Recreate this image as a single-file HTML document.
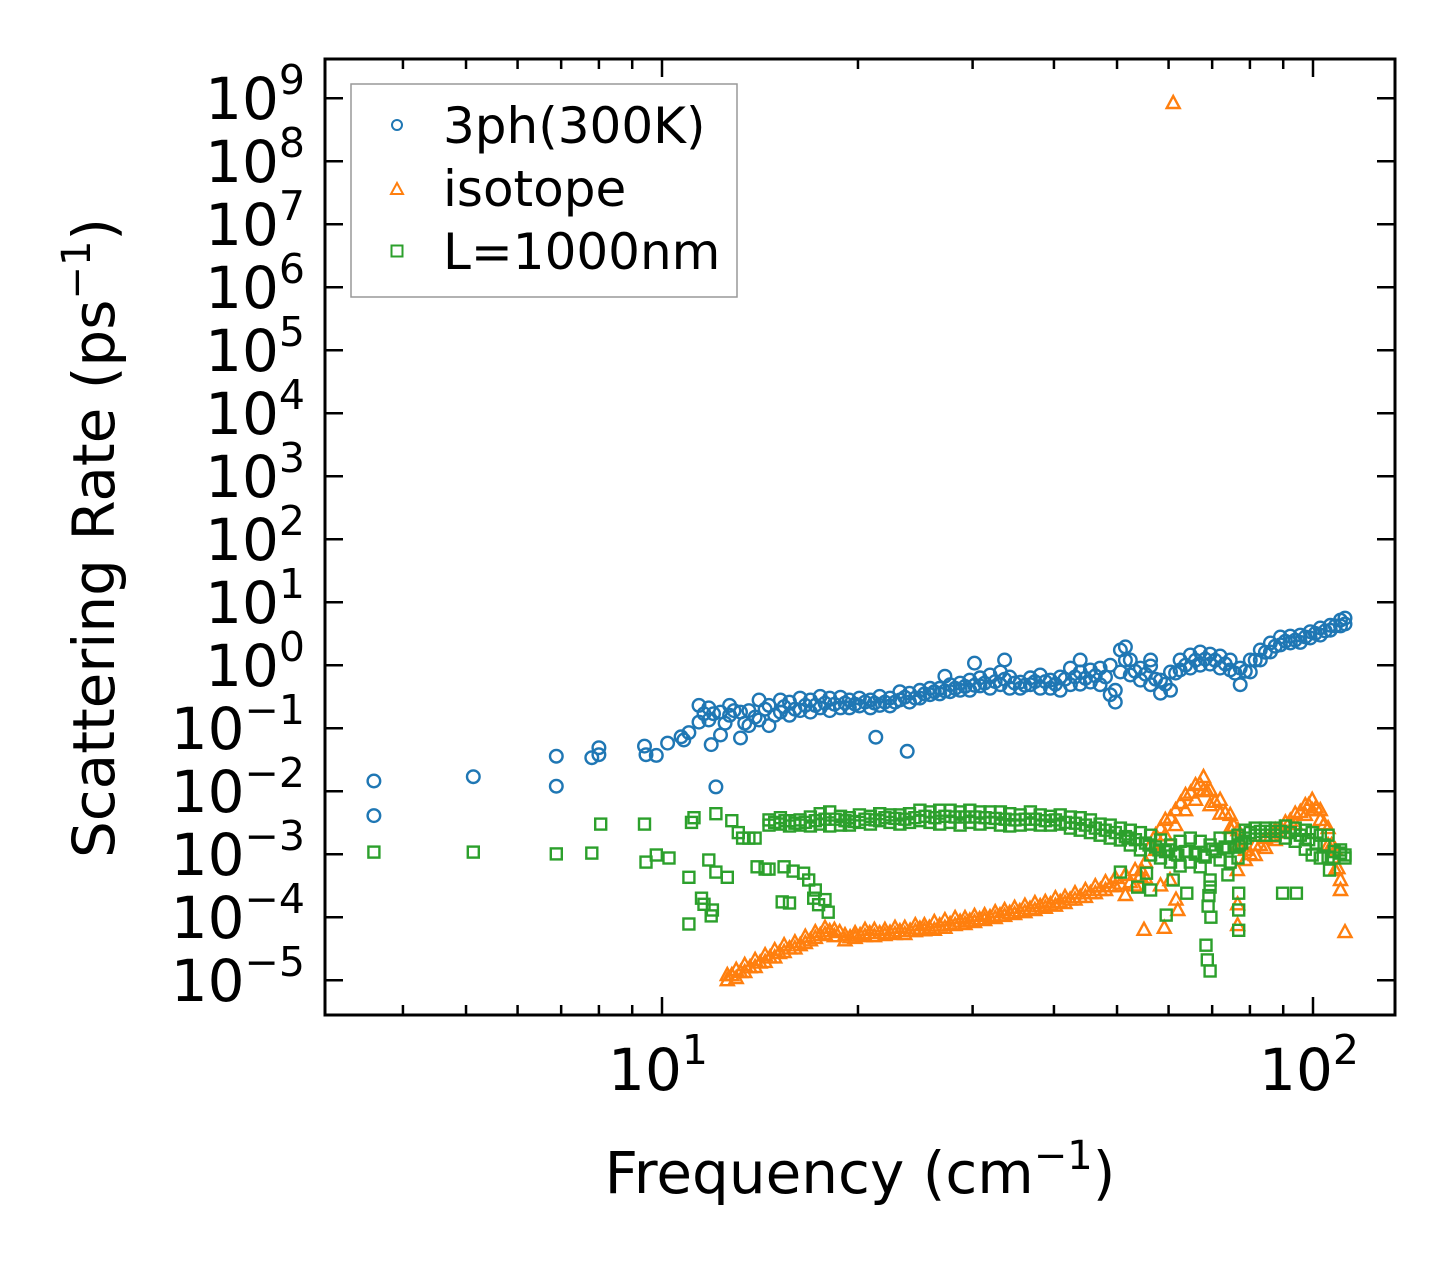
<!DOCTYPE html>
<html><head><meta charset="utf-8"><style>
html,body{margin:0;padding:0;background:#fff;}
svg{display:block;font-family:"DejaVu Sans","Liberation Sans",sans-serif;}
</style></head><body>
<svg id="chart" width="1455" height="1265" viewBox="0 0 1455 1265" xmlns="http://www.w3.org/2000/svg">
<rect x="0" y="0" width="1455" height="1265" fill="#fff"/>
<g id="marks"></g>
<g id="axes"></g>
<g id="legend">
<rect x="351" y="84" width="386" height="213" fill="#fff" stroke="#999" stroke-width="1.5"/>
<circle cx="397" cy="125" r="5" fill="none" stroke="#1f77b4" stroke-width="2"/>
<text x="443" y="143" font-size="50">3ph(300K)</text>
<path d="M391,194 L403,194 L397,183 Z" fill="none" stroke="#ff7f0e" stroke-width="2"/>
<text x="443" y="206" font-size="50">isotope</text>
<rect x="391.5" y="245.5" width="11" height="11" fill="none" stroke="#2ca02c" stroke-width="2"/>
<text x="443" y="269" font-size="50">L=1000nm</text>
</g>
<text x="860" y="1193" font-size="58" text-anchor="middle">Frequency (cm<tspan font-size="40" dy="-24">−1</tspan><tspan dy="24">)</tspan></text>
<text transform="translate(114,538) rotate(-90)" font-size="58" text-anchor="middle">Scattering Rate (ps<tspan font-size="40" dy="-24">−1</tspan><tspan dy="24">)</tspan></text>
</svg>
<script>
// ---- data ----
const blueFreq = [3.61,3.61,5.13,6.88,6.88,7.8,8.0,8.0,9.4,9.45,9.8,10.2,10.7,10.8,11.0,12.1,21.3,23.8,11.9,
11.4,11.4,11.8,11.8,12.3,12.3,12.7,12.7,13.2,13.2,13.6,13.6,14.1,14.1,14.6,14.6,15.2,15.2,15.7,15.7,16.3,16.3,16.9,16.9,17.5,17.5,18.1,18.1,18.8,18.8,19.4,19.4,20.1,20.1,20.9,20.9,21.6,21.6,22.4,22.4,23.2,23.2,24.0,24.0,24.9,24.9,25.8,25.8,26.7,26.7,27.7,27.7,28.7,28.7,29.7,29.7,30.8,30.8,31.9,31.9,33.1,33.1,34.2,34.2,35.5,35.5,36.8,36.8,38.1,38.1,39.5,39.5,40.9,40.9,42.4,42.4,43.9,43.9,45.5,45.5,47.1,47.1,48.8,48.8,49.7,49.7,50.6,50.6,52.4,52.4,54.3,54.3,56.3,56.3,58.3,58.3,60.4,60.4,62.5,62.5,64.8,64.8,67.1,67.1,69.5,69.5,72.0,72.0,74.6,74.6,77.3,77.3,80.1,80.1,83.0,83.0,86.0,86.0,89.1,89.1,92.3,92.3,95.6,95.6,99.0,99.0,102.6,102.6,106.3,106.3,110.2,110.2,112,112,
33.6,43.9,51.5,56.3,27.2,30.2,
11.6,12.0,12.5,12.9,13.4,13.9,14.4,14.9,15.4,16.0,16.6,17.2,17.8,18.4,19.1,19.8,20.5,21.2,22.0,22.8,23.6,24.5,25.3,26.2,27.2,28.2,29.2,30.2,31.3,32.5,33.6,34.8,36.1,37.4,38.8,40.2,41.6,43.1,44.7,46.3,48.0,
51.5,53.3,55.3,57.3,59.3,61.5,63.7,66.0,68.3,70.7,73.3,75.9,78.7,81.5,84.5,87.5,90.7,93.9,97.3,100.8,104.4,108.2];
const blueRate = [0.0145,0.0041,0.017,0.036,0.012,0.034,0.049,0.038,0.052,0.038,0.037,0.058,0.073,0.065,0.085,0.0117,0.072,0.043,0.055,
0.23,0.125,0.21,0.135,0.18,0.078,0.23,0.16,0.18,0.07,0.19,0.11,0.28,0.135,0.23,0.11,0.28,0.18,0.26,0.16,0.30,0.19,0.28,0.18,0.32,0.21,0.30,0.19,0.31,0.21,0.28,0.21,0.30,0.225,0.28,0.21,0.32,0.23,0.30,0.225,0.38,0.28,0.36,0.26,0.40,0.30,0.43,0.34,0.43,0.35,0.49,0.38,0.52,0.40,0.58,0.40,0.63,0.47,0.70,0.43,0.78,0.49,0.65,0.43,0.54,0.43,0.63,0.49,0.70,0.43,0.58,0.43,0.65,0.40,0.90,0.49,0.78,0.50,0.84,0.54,0.90,0.49,1.0,0.34,0.40,0.26,1.74,0.78,1.21,0.70,0.90,0.58,0.97,0.49,0.58,0.36,0.78,0.40,1.21,0.84,1.45,0.90,1.62,1.0,1.5,1.04,1.4,0.90,1.21,0.84,0.90,0.49,1.21,0.78,1.74,1.21,2.25,1.62,2.8,2.1,2.9,2.25,3.0,2.3,3.4,2.7,3.9,3.0,4.3,3.6,5.2,4.2,5.6,4.5,
1.21,1.21,1.95,1.21,0.67,1.08,
0.17,0.17,0.12,0.19,0.12,0.15,0.2,0.16,0.22,0.2,0.23,0.23,0.25,0.24,0.25,0.24,0.26,0.25,0.26,0.26,0.31,0.3,0.35,0.38,0.39,0.43,0.46,0.48,0.52,0.55,0.6,0.52,0.48,0.55,0.55,0.5,0.6,0.65,0.62,0.68,0.65,
1.2,0.8,0.72,0.6,0.5,0.75,1.0,1.2,1.25,1.2,1.05,0.75,0.8,1.2,1.6,2.0,2.4,2.5,2.8,3.2,3.5,4.2];

const orangeFreq = [12.6,12.6,13.0,13.0,13.4,13.4,13.9,13.9,14.4,14.4,14.9,14.9,15.4,15.4,16.0,16.0,16.6,16.6,17.2,17.2,17.8,17.8,18.4,18.4,19.1,19.1,19.8,19.8,20.5,20.5,21.2,21.2,22.0,22.0,22.8,22.8,23.6,23.6,24.5,24.5,25.3,25.3,26.2,26.2,27.2,27.2,28.2,28.2,29.2,29.2,30.2,30.2,31.3,31.3,32.5,32.5,33.6,33.6,34.8,34.8,36.1,36.1,37.4,37.4,38.8,38.8,40.2,40.2,41.6,41.6,43.1,43.1,44.7,44.7,46.3,46.3,48.0,48.0,49.7,49.7,51.5,51.5,53.3,53.3,55.3,55.3,
57.3,57.3,59.3,59.3,61.5,61.5,63.7,63.7,66.0,66.0,67.9,67.9,69.5,69.5,72.0,72.0,74.6,74.6,76.7,76.7,78.7,78.7,81.5,81.5,84.5,84.5,87.5,87.5,90.7,90.7,93.9,93.9,97.3,97.3,99.7,99.7,102.6,102.6,105.5,105.5,108.2,108.2,110.2,110.2,
55.0,59.1,60.3,61.6,62.0,76.6,76.6,76.5,112,54.5,58.3,61,
12.8,13.2,13.65,14.15,14.65,15.15,15.7,16.3,16.9,17.5,18.1,18.75,19.45,20.15,20.85,21.6,22.4,23.2,24.05,24.9,25.75,26.7,27.7,28.7,29.7,30.75,31.9,33.05,34.2,35.45,36.75,38.1,39.5,40.9,42.35,43.9,45.5,47.15,48.85,50.6,52.4,54.3,56.3,58.3,60.4,62.6,64.85,67.0,68.7,70.7,73.3,75.6,77.7,80.1,83.0,86.0,89.1,92.3,95.6,98.5,101.1,104.0,106.8,109.2];
const orangeRate = [1.21e-5,1.0e-5,1.46e-5,1.08e-5,1.75e-5,1.35e-5,2.1e-5,1.62e-5,2.5e-5,1.95e-5,3.0e-5,2.3e-5,3.6e-5,2.8e-5,4.0e-5,3.2e-5,4.9e-5,3.9e-5,5.8e-5,4.7e-5,6.8e-5,5.4e-5,6.3e-5,5.0e-5,5.2e-5,4.3e-5,5.6e-5,4.7e-5,6.3e-5,5.0e-5,6.3e-5,5.0e-5,6.3e-5,5.2e-5,6.8e-5,5.4e-5,6.8e-5,5.4e-5,7.5e-5,6.0e-5,7.5e-5,6.2e-5,8.4e-5,6.3e-5,9.0e-5,6.8e-5,9.7e-5,7.5e-5,9.7e-5,7.8e-5,1.05e-4,8.4e-5,1.08e-4,9.0e-5,1.2e-4,9.7e-5,1.3e-4,1.05e-4,1.41e-4,1.12e-4,1.52e-4,1.2e-4,1.68e-4,1.3e-4,1.75e-4,1.41e-4,2.0e-4,1.52e-4,2.1e-4,1.68e-4,2.4e-4,1.9e-4,2.7e-4,2.1e-4,3.1e-4,2.4e-4,3.6e-4,2.7e-4,4.2e-4,3.1e-4,4.7e-4,2.25e-4,5.6e-4,3.2e-4,7.5e-4,4.2e-4,
0.0020,0.00117,0.0035,0.0020,0.0050,0.0029,0.0087,0.0050,0.0125,0.0073,0.0168,0.0104,0.0104,0.0060,0.0073,0.0044,0.0042,0.0026,0.0024,0.0014,0.00117,0.00081,0.0014,0.00097,0.0018,0.00126,0.0024,0.00168,0.0032,0.0022,0.0044,0.0030,0.0060,0.0042,0.0073,0.0050,0.0050,0.0035,0.0026,0.0014,0.00117,0.00056,0.00039,0.00027,
6.3e-5,6.8e-5,3.9e-4,1.9e-4,1.3e-4,7.5e-5,1.6e-4,5.6e-4,5.8e-5,5.6e-4,3.2e-4,8.4e8,
1.2e-5,1.35e-5,1.6e-5,1.9e-5,2.3e-5,2.7e-5,3.2e-5,3.6e-5,4.3e-5,5.2e-5,6.0e-5,5.8e-5,4.8e-5,5.2e-5,5.6e-5,5.6e-5,5.7e-5,6.0e-5,6.1e-5,6.6e-5,6.8e-5,7.4e-5,7.8e-5,8.5e-5,8.8e-5,9.3e-5,1.0e-4,1.07e-4,1.17e-4,1.25e-4,1.36e-4,1.5e-4,1.6e-4,1.75e-4,1.9e-4,2.1e-4,2.4e-4,2.7e-4,3.1e-4,3.4e-4,3.6e-4,4.5e-4,1.4e-3,2.6e-3,3.8e-3,6.5e-3,9.5e-3,1.3e-2,1.0e-2,6.8e-3,4.5e-3,2.8e-3,1.4e-3,1.0e-3,1.4e-3,1.9e-3,2.6e-3,3.4e-3,4.7e-3,6.0e-3,5.5e-3,3.0e-3,1.4e-3,6e-4];

const greenFreq = [3.61,5.13,6.88,7.8,8.05,9.4,9.45,9.8,10.25,11.0,11.0,11.2,11.1,11.6,11.8,11.9,11.95,12.1,12.1,12.6,12.8,13.1,13.3,13.6,13.9,14.0,14.4,14.6,15.4,15.9,16.5,16.8,17.2,17.1,17.4,17.8,18.0,15.7,15.3,11.5,
14.6,14.6,15.2,15.2,15.7,15.7,16.3,16.3,16.9,16.9,17.5,17.5,18.1,18.1,18.8,18.8,19.4,19.4,20.1,20.1,20.9,20.9,21.6,21.6,22.4,22.4,23.2,23.2,24.0,24.0,24.9,24.9,25.8,25.8,26.7,26.7,27.7,27.7,28.7,28.7,29.7,29.7,30.8,30.8,31.9,31.9,33.1,33.1,34.2,34.2,35.5,35.5,36.8,36.8,38.1,38.1,39.5,39.5,40.9,40.9,42.4,42.4,43.9,43.9,45.5,45.5,47.1,47.1,48.8,48.8,50.6,50.6,52.4,52.4,54.3,54.3,56.3,56.3,58.3,58.3,60.4,60.4,62.5,62.5,64.8,64.8,67.1,67.1,69.5,69.5,72.0,72.0,74.6,74.6,76.7,76.7,78.7,78.7,81.5,81.5,84.5,84.5,87.5,87.5,90.7,90.7,93.9,93.9,97.3,97.3,99.7,99.7,102.6,102.6,105.5,105.5,110.2,110.2,112,112,
52,56,60,64,66,68,70,74,77,58,62,
50.6,53.8,56.3,59.5,68.5,68.8,69.5,69.7,69.0,69.2,69.5,76.9,76.9,76.9,64,89.8,94.3,107.5,106,74,55.5,61,
14.9,15.45,16.0,16.6,17.2,17.8,18.45,19.1,19.75,20.5,21.25,22.0,22.8,23.6,24.45,25.35,26.25,27.2,28.2,29.2,30.25,31.35,32.5,33.65,34.85,36.15,37.45,38.8,40.2,41.65,43.15,44.7,46.3,47.95,49.7,51.5,53.35,55.3,57.3,59.35,61.45,63.65,65.95,68.3,70.75,73.3,75.65,77.7,80.1,83.0,86.0,89.1,92.3,95.6,98.5,101.1,104.0,107.8];
const greenRate = [0.00108,0.00108,0.00101,0.00104,0.0030,0.0030,0.00075,0.00097,0.00087,0.00043,0.000078,0.0038,0.0032,0.00016,0.00081,0.000105,0.00013,0.0044,0.00052,0.00043,0.0034,0.0022,0.0018,0.0018,0.0018,0.00063,0.00058,0.00058,0.00063,0.00054,0.00050,0.00039,0.00027,0.00020,0.000158,0.00019,0.00012,0.000168,0.000175,0.00020,
0.0035,0.0029,0.0038,0.0030,0.0034,0.0028,0.0035,0.0029,0.0039,0.0028,0.0044,0.0030,0.0047,0.0028,0.0040,0.0029,0.0038,0.0029,0.0042,0.0032,0.0040,0.0030,0.0044,0.0034,0.0042,0.0032,0.0042,0.0030,0.0044,0.0032,0.0050,0.0034,0.0047,0.0032,0.0050,0.0030,0.0050,0.0032,0.0047,0.0029,0.0050,0.0032,0.0047,0.0030,0.0047,0.0032,0.0047,0.0029,0.0044,0.0028,0.0042,0.0029,0.0047,0.0030,0.0042,0.0029,0.0040,0.0029,0.0042,0.0030,0.0039,0.0026,0.0038,0.0024,0.0035,0.0022,0.0030,0.0020,0.0029,0.0018,0.0026,0.00168,0.0024,0.0014,0.0022,0.00117,0.0020,0.00097,0.00168,0.00087,0.0014,0.00075,0.0016,0.00065,0.0018,0.00075,0.0016,0.00063,0.0014,0.00039,0.0018,0.00081,0.0018,0.00075,0.0020,0.00087,0.0024,0.0018,0.0026,0.0020,0.0026,0.0020,0.0026,0.0020,0.0028,0.0018,0.0026,0.0016,0.0024,0.0012,0.0022,0.00097,0.0020,0.00087,0.0020,0.0009,0.00117,0.00104,0.00097,0.00087,
0.0018,0.0014,0.00117,0.0011,0.00104,0.00097,0.0012,0.00126,0.0014,0.00117,0.00097,
0.00052,0.00030,0.00027,0.000108,0.000036,0.000021,0.000014,0.00010,0.00015,0.00022,0.00030,0.000062,0.00013,0.00024,0.00024,0.00024,0.00024,0.00087,0.00056,0.00047,0.00050,0.00039,
0.0032,0.0034,0.0031,0.0032,0.0034,0.0036,0.0036,0.0034,0.0033,0.0036,0.0035,0.0038,0.0037,0.0036,0.0038,0.0040,0.0038,0.0040,0.0039,0.0039,0.0039,0.0038,0.0037,0.0036,0.0035,0.0036,0.0036,0.0034,0.0035,0.0032,0.0031,0.0029,0.0026,0.0024,0.0022,0.0019,0.0017,0.0015,0.0013,0.0011,0.0010,0.0011,0.0010,0.0009,0.0011,0.0013,0.0013,0.0015,0.0022,0.0023,0.0023,0.0023,0.0022,0.0020,0.0017,0.0015,0.0014,0.0011];

const yTickExps = [-5,-4,-3,-2,-1,0,1,2,3,4,5,6,7,8,9];
const xTickExps = [1,2];

// ---- axes geometry ----
const L=325,R=1395,T=59,B=1015;
function xs(f){return 662+651*Math.log10(f/10);}
function ys(v){return 665.2-63*Math.log10(v);}
const NS='http://www.w3.org/2000/svg';
function mk(tag,attrs,parent){const e=document.createElementNS(NS,tag);for(const k in attrs)e.setAttribute(k,attrs[k]);parent.appendChild(e);return e;}
const marks=document.getElementById('marks');
const axes=document.getElementById('axes');

function inside(x,y){return x>=L&&x<=R&&y>=T&&y<=B;}
for(let i=0;i<blueFreq.length;i++){
  const x=xs(blueFreq[i]),y=ys(blueRate[i]); if(!inside(x,y))continue;
  const c=mk('circle',{cx:x.toFixed(1),cy:y.toFixed(1),r:6.3,fill:'none',stroke:'#1f77b4','stroke-width':2.4},marks);
  
  
}
for(let i=0;i<orangeFreq.length;i++){
  const x=xs(orangeFreq[i]),y=ys(orangeRate[i]); if(!inside(x,y))continue;
  const p=mk('path',{d:`M${(x-6.5).toFixed(1)},${(y+5).toFixed(1)} L${(x+6.5).toFixed(1)},${(y+5).toFixed(1)} L${x.toFixed(1)},${(y-7).toFixed(1)} Z`,fill:'none',stroke:'#ff7f0e','stroke-width':2.4},marks);
  
  
}
for(let i=0;i<greenFreq.length;i++){
  const x=xs(greenFreq[i]),y=ys(greenRate[i]); if(!inside(x,y))continue;
  const s=mk('rect',{x:(x-5.5).toFixed(1),y:(y-5.5).toFixed(1),width:11,height:11,fill:'none',stroke:'#2ca02c','stroke-width':2.4},marks);
  
  
}

const fr=mk('rect',{x:L,y:T,width:R-L,height:B-T,fill:'none',stroke:'#000','stroke-width':3},axes);



for(const e of yTickExps){
  const y=ys(Math.pow(10,e));
  const t1=mk('line',{x1:L,x2:L+18,y1:y,y2:y,stroke:'#000','stroke-width':2.5},axes);
  
  
  const t2=mk('line',{x1:R-18,x2:R,y1:y,y2:y,stroke:'#000','stroke-width':2.5},axes);
  
  
  const tx=mk('text',{x:305,y:(y+21).toFixed(1),'font-size':58,'text-anchor':'end'},axes);
  
  
  tx.appendChild(document.createTextNode('10'));
  const sp=mk('tspan',{'font-size':41,dy:-25},tx);
  sp.textContent=(e<0?'−':'')+Math.abs(e);
}
for(let d=0;d<=2;d++){
  for(let m=1;m<=9;m++){
    const f=m*Math.pow(10,d); const x=xs(f); if(x<L||x>R)continue;
    const major=(m===1);
    const len=major?18:10;
    const a=mk('line',{x1:x,x2:x,y1:B,y2:B-len,stroke:'#000','stroke-width':2.5},axes);
    
    
    const b=mk('line',{x1:x,x2:x,y1:T,y2:T+len,stroke:'#000','stroke-width':2.5},axes);
    
    
  }
}
for(const e of xTickExps){
  const x=xs(Math.pow(10,e));
  const tx=mk('text',{x:(x-4).toFixed(1),y:1090,'font-size':58,'text-anchor':'middle'},axes);
  
  
  tx.appendChild(document.createTextNode('10'));
  const sp=mk('tspan',{'font-size':41,dy:-26},tx);
  sp.textContent=String(e);
}
</script>
</body></html>
